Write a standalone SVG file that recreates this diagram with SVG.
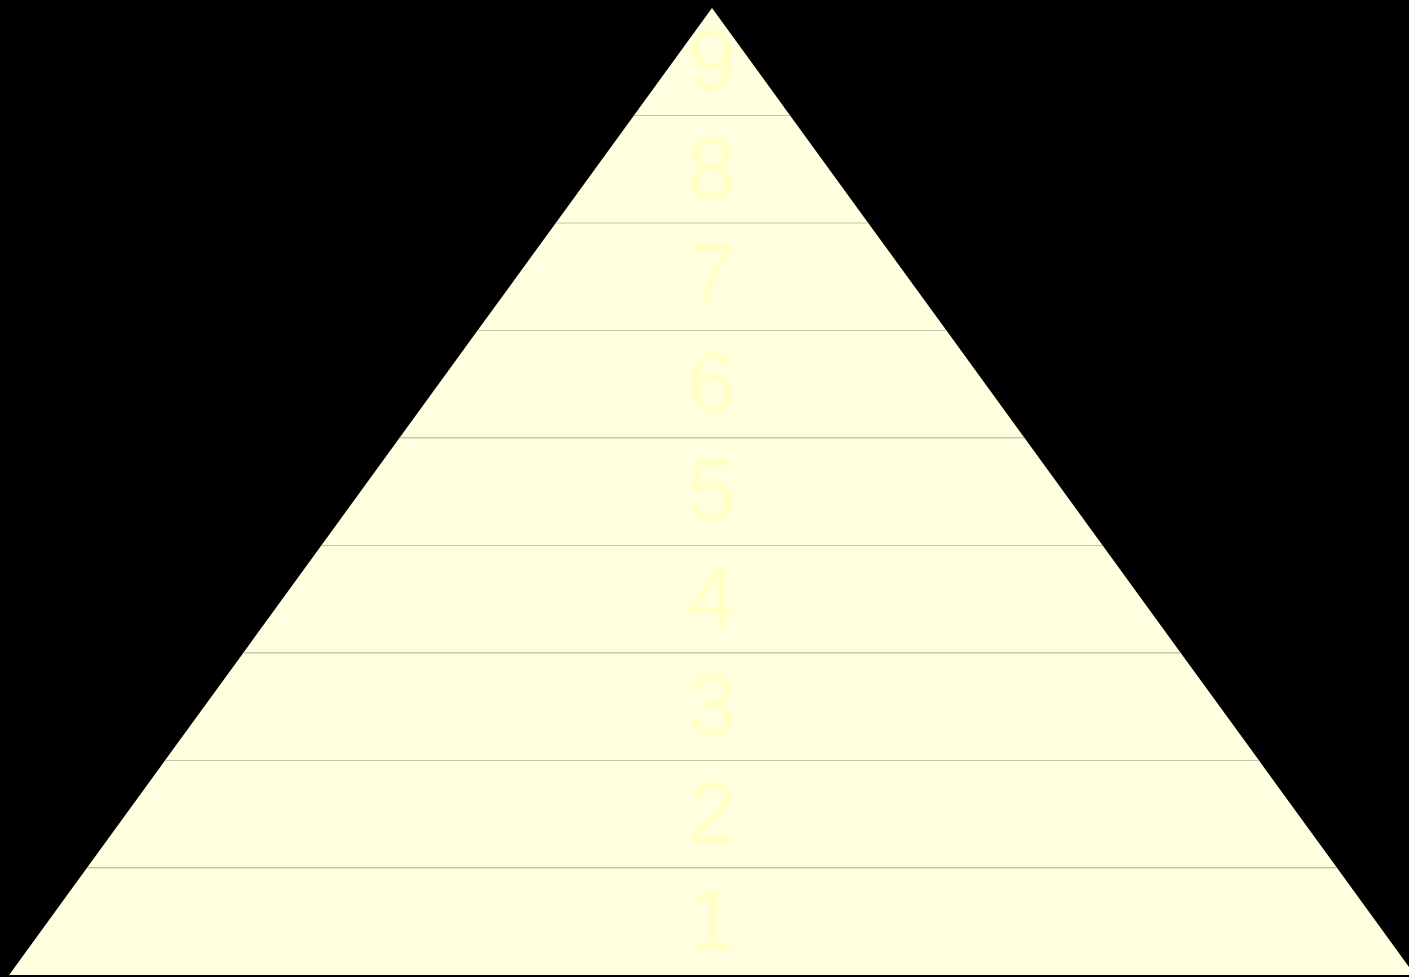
<svg xmlns="http://www.w3.org/2000/svg" width="1409" height="977" viewBox="0 0 1409 977">
<style>
.layer{fill:#FFFFE0;stroke:none}
.div{stroke:#C4C4AC;stroke-width:1}
.lbl{font-family:"Liberation Sans",Arial,sans-serif;font-size:87px;fill:#FFFFC6;text-anchor:middle}
</style>
<rect width="1409" height="977" fill="#000000"/>
<g id="layer9"><polygon class="layer" points="712,8 790.1,115.4 633.9,115.4"/><text class="lbl" x="712" y="90">9</text></g>
<g id="layer8"><polygon class="layer" points="633.9,115.4 790.1,115.4 868.2,222.9 555.8,222.9"/><text class="lbl" x="712" y="198">8</text></g>
<g id="layer7"><polygon class="layer" points="555.8,222.9 868.2,222.9 946.3,330.3 477.7,330.3"/><text class="lbl" x="712" y="305">7</text></g>
<g id="layer6"><polygon class="layer" points="477.7,330.3 946.3,330.3 1024.4,437.8 399.6,437.8"/><text class="lbl" x="712" y="413">6</text></g>
<g id="layer5"><polygon class="layer" points="399.6,437.8 1024.4,437.8 1102.5,545.2 321.5,545.2"/><text class="lbl" x="712" y="520">5</text></g>
<g id="layer4"><polygon class="layer" points="321.5,545.2 1102.5,545.2 1180.6,652.7 243.4,652.7"/><text class="lbl" x="712" y="628">4</text></g>
<g id="layer3"><polygon class="layer" points="243.4,652.7 1180.6,652.7 1258.7,760.1 165.3,760.1"/><text class="lbl" x="712" y="735">3</text></g>
<g id="layer2"><polygon class="layer" points="165.3,760.1 1258.7,760.1 1336.8,867.6 87.2,867.6"/><text class="lbl" x="712" y="843">2</text></g>
<g id="layer1"><polygon class="layer" points="87.2,867.6 1336.8,867.6 1414.9,975 9.1,975"/><text class="lbl" x="712" y="950">1</text></g>
<g id="connectors">
<line class="div" x1="633.9" y1="115.5" x2="790.1" y2="115.5"/>
<line class="div" x1="555.8" y1="223" x2="868.2" y2="223"/>
<line class="div" x1="477.7" y1="330.5" x2="946.3" y2="330.5"/>
<line class="div" x1="399.6" y1="438" x2="1024.4" y2="438"/>
<line class="div" x1="321.5" y1="545.5" x2="1102.5" y2="545.5"/>
<line class="div" x1="243.4" y1="653" x2="1180.6" y2="653"/>
<line class="div" x1="165.3" y1="760.5" x2="1258.7" y2="760.5"/>
<line class="div" x1="87.2" y1="868" x2="1336.8" y2="868"/>
</g>
</svg>
